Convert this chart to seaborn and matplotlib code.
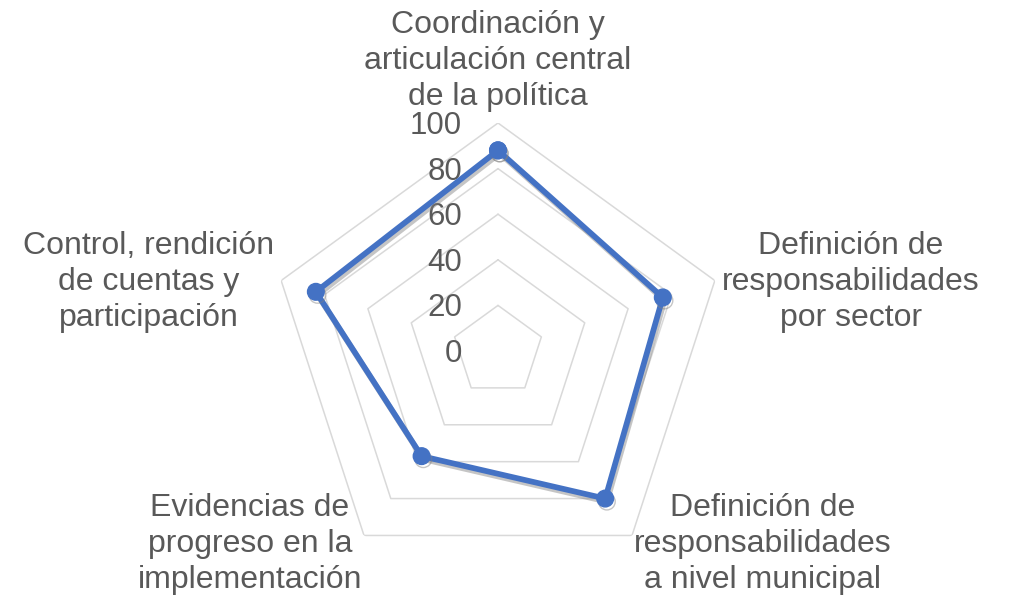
import matplotlib
matplotlib.use("Agg")
import matplotlib.pyplot as plt
import matplotlib.patheffects as pe
import numpy as np
import seaborn as sns

# ------------------------------------------
# Data
# ------------------------------------------
categories = [
    "Coordinación y\narticulación central\nde la política",
    "Definición de\nresponsabilidades\npor sector",
    "Definición de\nresponsabilidades\na nivel municipal",
    "Evidencias de\nprogreso en la\nimplementación",
    "Control, rendición\nde cuentas y\nparticipación",
]
values = [88, 76, 80, 57, 84]
ring_ticks = [0, 20, 40, 60, 80, 100]

# ------------------------------------------
# Style
# ------------------------------------------
sns.set_style("white")
plt.rcParams['font.family'] = ['Liberation Sans', 'DejaVu Sans']
text_color = "#595959"
line_color = "#4472C4"
grid_color = "#D9D9D9"

W, H = 1010, 596
fig = plt.figure(figsize=(W / 100, H / 100), dpi=100)

# center (498, 351) px, radius for 100 = 228 px
cx, cy, R = 498, 351, 228
ax = fig.add_axes([(cx - R) / W, 1 - (cy + R) / H, 2 * R / W, 2 * R / H], polar=True)
ax.set_theta_offset(np.pi / 2)
ax.set_theta_direction(-1)
ax.set_ylim(0, 100)
ax.grid(False)
ax.spines['polar'].set_visible(False)
ax.set_xticks([])
ax.set_yticks([])
ax.patch.set_alpha(0)

n = len(categories)
angles = np.linspace(0, 2 * np.pi, n, endpoint=False)
angles_closed = np.concatenate([angles, angles[:1]])

# pentagon grid rings
for t in ring_ticks[1:]:
    ax.plot(angles_closed, [t] * (n + 1), color=grid_color, lw=1.1, zorder=1)

# radial tick labels
offset = matplotlib.transforms.ScaledTranslation(-36 / 100, -3 / 100, fig.dpi_scale_trans)
for t in ring_ticks:
    ax.text(0, t, str(t), ha='right', va='center', fontsize=22.5,
            color=text_color, transform=ax.transData + offset, zorder=3)

# data line with soft shadow
vals_closed = values + values[:1]
ax.plot(angles_closed, vals_closed, color=line_color, lw=4.1, marker='o',
        markersize=12, zorder=4, clip_on=False,
        path_effects=[pe.SimpleLineShadow(offset=(1.2, -2.2), shadow_color='#808080', alpha=0.45),
                      pe.Normal()])

# category labels
label_pos = [(498, 61), (851, 282), (763, 544), (250, 544), (149, 282)]
for lab, (px, py) in zip(categories, label_pos):
    fig.text(px / W, 1 - py / H, lab, ha='center', va='center', fontsize=23,
             color=text_color, linespacing=1.28)

fig.savefig("out.png", dpi=100)
